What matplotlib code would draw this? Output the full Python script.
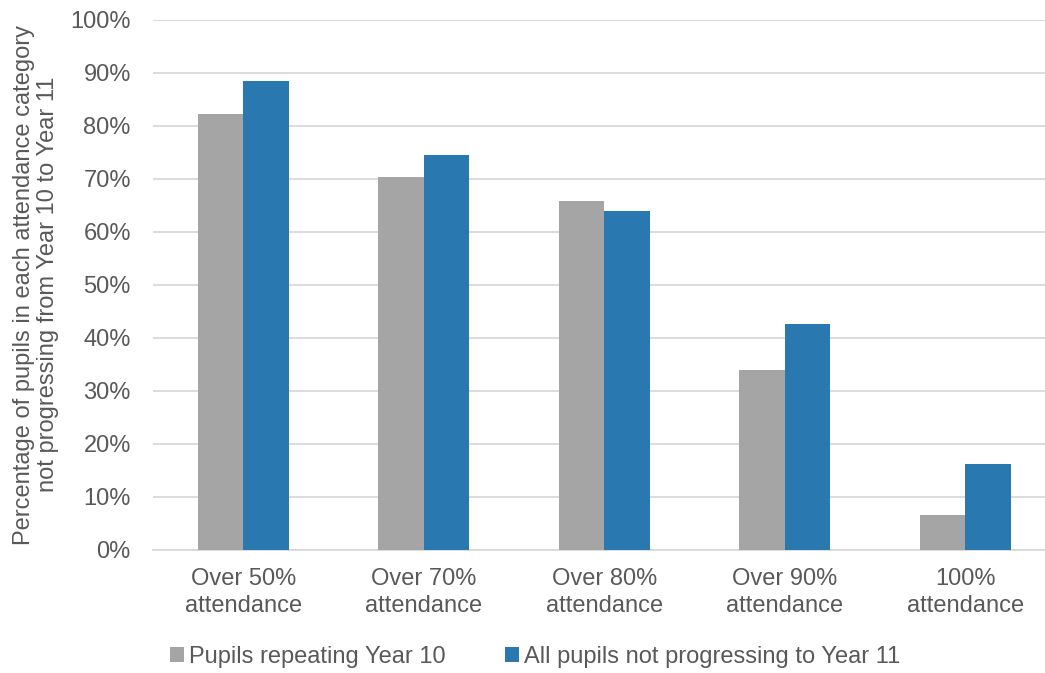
import numpy as np
import matplotlib.pyplot as plt
from matplotlib.ticker import FuncFormatter

categories = ['Over 50%\nattendance', 'Over 70%\nattendance', 'Over 80%\nattendance',
              'Over 90%\nattendance', '100%\nattendance']
repeating = [82.3, 70.3, 65.8, 34.0, 6.5]
not_progressing = [88.5, 74.5, 64.0, 42.5, 16.1]
series_names = ['Pupils repeating Year 10', 'All pupils not progressing to Year 11']

plt.rcParams['font.family'] = ['Liberation Sans', 'DejaVu Sans']
text_col = '#595959'
grid_col = '#d9d9d9'
fs = 17

fig = plt.figure(figsize=(10.45, 6.73), dpi=100)
ax = fig.add_axes([153 / 1045, 0.1832, 902.5 / 1045, 0.7875])

x = np.arange(len(categories))
w = 0.251
ax.bar(x - w / 2, repeating, width=w, color='#a5a5a5', label=series_names[0], zorder=3)
ax.bar(x + w / 2, not_progressing, width=w, color='#2a78b0', label=series_names[1], zorder=3)

ax.set_xlim(-0.5, len(categories) - 0.5)
ax.set_ylim(0, 100)
ax.set_yticks(np.arange(0, 101, 10))
ax.yaxis.set_major_formatter(FuncFormatter(lambda v, p: f'{v:.0f}%'))
ax.set_xticks(x)
ax.set_xticklabels(categories, linespacing=1.3)
ax.grid(axis='y', color=grid_col, linewidth=1.3, zorder=0)
ax.tick_params(axis='y', length=0, pad=16, labelsize=fs, labelcolor=text_col)
ax.tick_params(axis='x', length=0, pad=13, labelsize=fs, labelcolor=text_col)
for s in ['top', 'right', 'left']:
    ax.spines[s].set_visible(False)
ax.spines['bottom'].set_color(grid_col)
ax.spines['bottom'].set_linewidth(1.3)

ax.set_ylabel('Percentage of pupils in each attendance category\nnot progressing from Year 10 to Year 11',
              fontsize=fs, color=text_col, linespacing=1.15, labelpad=8)

fig.legend(loc='center', bbox_to_anchor=(0.512, 1 - 657 / 673), ncol=2, frameon=False,
           fontsize=fs, labelcolor=text_col, handlelength=0.6, handleheight=0.6,
           handletextpad=0.2, columnspacing=2.5)

plt.savefig('out.png', dpi=100)
